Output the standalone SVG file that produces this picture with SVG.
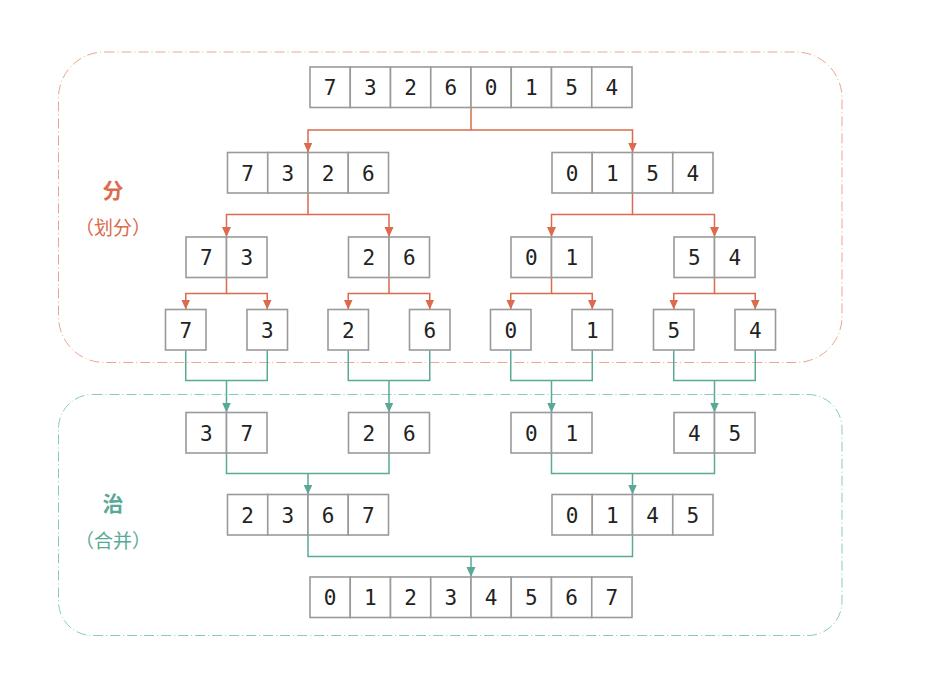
<svg xmlns="http://www.w3.org/2000/svg" width="936" height="696" viewBox="0 0 936 696">
<style>
.cell{fill:#fff;stroke:#9a9a9a;stroke-width:1.6}
.num{font-family:"DejaVu Sans Mono","Liberation Mono",monospace;font-size:21px;fill:#222;text-anchor:middle}
.red{fill:none;stroke:#dc6a4c;stroke-width:1.5}
.grn{fill:none;stroke:#5aa997;stroke-width:1.5}
.lbl{font-family:"Noto Sans CJK SC","Noto Sans",sans-serif;text-anchor:middle}
.big{font-size:21px;font-weight:bold}
.sub{font-size:19px}
</style>
<defs>
<marker id="ar" markerUnits="userSpaceOnUse" markerWidth="10" markerHeight="10" viewBox="0 0 10 10" refX="10" refY="5" orient="auto"><path d="M0 0.5 L10 5 L0 9.5 Z" fill="#dc6a4c"/></marker>
<marker id="ag" markerUnits="userSpaceOnUse" markerWidth="10" markerHeight="10" viewBox="0 0 10 10" refX="10" refY="5" orient="auto"><path d="M0 0.5 L10 5 L0 9.5 Z" fill="#5aa997"/></marker>
</defs>
<rect width="936" height="696" fill="#fff"/>
<g id="regions">
<rect x="58.5" y="52" width="783.5" height="310.5" rx="46" fill="none" stroke="#eea58e" stroke-width="1" stroke-dasharray="10 3 1 3"/>
<rect x="58.5" y="394.5" width="783.5" height="241" rx="34" fill="none" stroke="#86cbbf" stroke-width="1" stroke-dasharray="10 3 1 3"/>
</g>
<g id="labels">
<text class="lbl big" x="113" y="198" fill="#dc6a4c">分</text>
<text class="lbl sub" x="113" y="235" fill="#dc6a4c">（划分）</text>
<text class="lbl big" x="113" y="511" fill="#5aa997">治</text>
<text class="lbl sub" x="113" y="548" fill="#5aa997">（合并）</text>
</g>
<g id="connectors">
<path class="red" d="M471 107.5V130H308V152.5" marker-end="url(#ar)"/>
<path class="red" d="M471 130H632.5V152.5" marker-end="url(#ar)"/>
<path class="red" d="M308 193V214.5H226.5V237" marker-end="url(#ar)"/>
<path class="red" d="M308 214.5H389V237" marker-end="url(#ar)"/>
<path class="red" d="M632.5 193V214.5H551.5V237" marker-end="url(#ar)"/>
<path class="red" d="M632.5 214.5H714.5V237" marker-end="url(#ar)"/>
<path class="red" d="M226.5 277.5V293.5H185.75V309.5" marker-end="url(#ar)"/>
<path class="red" d="M226.5 293.5H267.25V309.5" marker-end="url(#ar)"/>
<path class="red" d="M389 277.5V293.5H348.25V309.5" marker-end="url(#ar)"/>
<path class="red" d="M389 293.5H429.75V309.5" marker-end="url(#ar)"/>
<path class="red" d="M551.5 277.5V293.5H510.75V309.5" marker-end="url(#ar)"/>
<path class="red" d="M551.5 293.5H592.25V309.5" marker-end="url(#ar)"/>
<path class="red" d="M714.5 277.5V293.5H673.75V309.5" marker-end="url(#ar)"/>
<path class="red" d="M714.5 293.5H755.25V309.5" marker-end="url(#ar)"/>
<path class="grn" d="M185.75 350V380.5H267.25V350"/>
<path class="grn" d="M226.5 380.5V412.5" marker-end="url(#ag)"/>
<path class="grn" d="M348.25 350V380.5H429.75V350"/>
<path class="grn" d="M389 380.5V412.5" marker-end="url(#ag)"/>
<path class="grn" d="M510.75 350V380.5H592.25V350"/>
<path class="grn" d="M551.5 380.5V412.5" marker-end="url(#ag)"/>
<path class="grn" d="M673.75 350V380.5H755.25V350"/>
<path class="grn" d="M714.5 380.5V412.5" marker-end="url(#ag)"/>
<path class="grn" d="M226.5 453V473.5H389V453"/>
<path class="grn" d="M308 473.5V494.5" marker-end="url(#ag)"/>
<path class="grn" d="M551.5 453V473.5H714.5V453"/>
<path class="grn" d="M632.5 473.5V494.5" marker-end="url(#ag)"/>
<path class="grn" d="M308 535V556.5H632.5V535"/>
<path class="grn" d="M471 556.5V577" marker-end="url(#ag)"/>
</g>
<g id="n1">
<rect class="cell" x="310" y="67" width="40.25" height="40.5"/><rect class="cell" x="350.25" y="67" width="40.25" height="40.5"/><rect class="cell" x="390.5" y="67" width="40.25" height="40.5"/><rect class="cell" x="430.75" y="67" width="40.25" height="40.5"/><rect class="cell" x="471" y="67" width="40.25" height="40.5"/><rect class="cell" x="511.25" y="67" width="40.25" height="40.5"/><rect class="cell" x="551.5" y="67" width="40.25" height="40.5"/><rect class="cell" x="591.75" y="67" width="40.25" height="40.5"/>
<text class="num" y="95"><tspan x="330.1">7</tspan><tspan x="370.4">3</tspan><tspan x="410.6">2</tspan><tspan x="450.9">6</tspan><tspan x="491.1">0</tspan><tspan x="531.4">1</tspan><tspan x="571.6">5</tspan><tspan x="611.9">4</tspan></text>
</g>
<g id="n2a">
<rect class="cell" x="227.5" y="152.5" width="40.25" height="40.5"/><rect class="cell" x="267.75" y="152.5" width="40.25" height="40.5"/><rect class="cell" x="308" y="152.5" width="40.25" height="40.5"/><rect class="cell" x="348.25" y="152.5" width="40.25" height="40.5"/>
<text class="num" y="180.5"><tspan x="247.6">7</tspan><tspan x="287.9">3</tspan><tspan x="328.1">2</tspan><tspan x="368.4">6</tspan></text>
</g>
<g id="n2b">
<rect class="cell" x="552" y="152.5" width="40.25" height="40.5"/><rect class="cell" x="592.25" y="152.5" width="40.25" height="40.5"/><rect class="cell" x="632.5" y="152.5" width="40.25" height="40.5"/><rect class="cell" x="672.75" y="152.5" width="40.25" height="40.5"/>
<text class="num" y="180.5"><tspan x="572.1">0</tspan><tspan x="612.4">1</tspan><tspan x="652.6">5</tspan><tspan x="692.9">4</tspan></text>
</g>
<g id="n3a">
<rect class="cell" x="186" y="237" width="40.5" height="40.5"/><rect class="cell" x="226.5" y="237" width="40.5" height="40.5"/>
<text class="num" y="265"><tspan x="206.25">7</tspan><tspan x="246.75">3</tspan></text>
</g>
<g id="n3b">
<rect class="cell" x="348.5" y="237" width="40.5" height="40.5"/><rect class="cell" x="389" y="237" width="40.5" height="40.5"/>
<text class="num" y="265"><tspan x="368.75">2</tspan><tspan x="409.25">6</tspan></text>
</g>
<g id="n3c">
<rect class="cell" x="511" y="237" width="40.5" height="40.5"/><rect class="cell" x="551.5" y="237" width="40.5" height="40.5"/>
<text class="num" y="265"><tspan x="531.25">0</tspan><tspan x="571.75">1</tspan></text>
</g>
<g id="n3d">
<rect class="cell" x="674" y="237" width="40.5" height="40.5"/><rect class="cell" x="714.5" y="237" width="40.5" height="40.5"/>
<text class="num" y="265"><tspan x="694.25">5</tspan><tspan x="734.75">4</tspan></text>
</g>
<g id="n4a"><rect class="cell" x="165.5" y="309.5" width="40.5" height="40.5"/><text class="num" x="185.75" y="337.5">7</text></g>
<g id="n4b"><rect class="cell" x="247" y="309.5" width="40.5" height="40.5"/><text class="num" x="267.25" y="337.5">3</text></g>
<g id="n4c"><rect class="cell" x="328" y="309.5" width="40.5" height="40.5"/><text class="num" x="348.25" y="337.5">2</text></g>
<g id="n4d"><rect class="cell" x="409.5" y="309.5" width="40.5" height="40.5"/><text class="num" x="429.75" y="337.5">6</text></g>
<g id="n4e"><rect class="cell" x="490.5" y="309.5" width="40.5" height="40.5"/><text class="num" x="510.75" y="337.5">0</text></g>
<g id="n4f"><rect class="cell" x="572" y="309.5" width="40.5" height="40.5"/><text class="num" x="592.25" y="337.5">1</text></g>
<g id="n4g"><rect class="cell" x="653.5" y="309.5" width="40.5" height="40.5"/><text class="num" x="673.75" y="337.5">5</text></g>
<g id="n4h"><rect class="cell" x="735" y="309.5" width="40.5" height="40.5"/><text class="num" x="755.25" y="337.5">4</text></g>
<g id="n5a">
<rect class="cell" x="186" y="412.5" width="40.5" height="40.5"/><rect class="cell" x="226.5" y="412.5" width="40.5" height="40.5"/>
<text class="num" y="440.5"><tspan x="206.25">3</tspan><tspan x="246.75">7</tspan></text>
</g>
<g id="n5b">
<rect class="cell" x="348.5" y="412.5" width="40.5" height="40.5"/><rect class="cell" x="389" y="412.5" width="40.5" height="40.5"/>
<text class="num" y="440.5"><tspan x="368.75">2</tspan><tspan x="409.25">6</tspan></text>
</g>
<g id="n5c">
<rect class="cell" x="511" y="412.5" width="40.5" height="40.5"/><rect class="cell" x="551.5" y="412.5" width="40.5" height="40.5"/>
<text class="num" y="440.5"><tspan x="531.25">0</tspan><tspan x="571.75">1</tspan></text>
</g>
<g id="n5d">
<rect class="cell" x="674" y="412.5" width="40.5" height="40.5"/><rect class="cell" x="714.5" y="412.5" width="40.5" height="40.5"/>
<text class="num" y="440.5"><tspan x="694.25">4</tspan><tspan x="734.75">5</tspan></text>
</g>
<g id="n6a">
<rect class="cell" x="227.5" y="494.5" width="40.25" height="40.5"/><rect class="cell" x="267.75" y="494.5" width="40.25" height="40.5"/><rect class="cell" x="308" y="494.5" width="40.25" height="40.5"/><rect class="cell" x="348.25" y="494.5" width="40.25" height="40.5"/>
<text class="num" y="522.5"><tspan x="247.6">2</tspan><tspan x="287.9">3</tspan><tspan x="328.1">6</tspan><tspan x="368.4">7</tspan></text>
</g>
<g id="n6b">
<rect class="cell" x="552" y="494.5" width="40.25" height="40.5"/><rect class="cell" x="592.25" y="494.5" width="40.25" height="40.5"/><rect class="cell" x="632.5" y="494.5" width="40.25" height="40.5"/><rect class="cell" x="672.75" y="494.5" width="40.25" height="40.5"/>
<text class="num" y="522.5"><tspan x="572.1">0</tspan><tspan x="612.4">1</tspan><tspan x="652.6">4</tspan><tspan x="692.9">5</tspan></text>
</g>
<g id="n7">
<rect class="cell" x="310" y="577" width="40.25" height="40.5"/><rect class="cell" x="350.25" y="577" width="40.25" height="40.5"/><rect class="cell" x="390.5" y="577" width="40.25" height="40.5"/><rect class="cell" x="430.75" y="577" width="40.25" height="40.5"/><rect class="cell" x="471" y="577" width="40.25" height="40.5"/><rect class="cell" x="511.25" y="577" width="40.25" height="40.5"/><rect class="cell" x="551.5" y="577" width="40.25" height="40.5"/><rect class="cell" x="591.75" y="577" width="40.25" height="40.5"/>
<text class="num" y="605"><tspan x="330.1">0</tspan><tspan x="370.4">1</tspan><tspan x="410.6">2</tspan><tspan x="450.9">3</tspan><tspan x="491.1">4</tspan><tspan x="531.4">5</tspan><tspan x="571.6">6</tspan><tspan x="611.9">7</tspan></text>
</g>
</svg>
